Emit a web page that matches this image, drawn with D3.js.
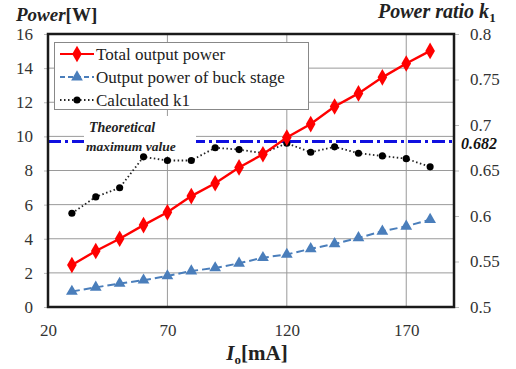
<!DOCTYPE html>
<html>
<head>
<meta charset="utf-8">
<script src="https://cdn.jsdelivr.net/npm/d3@7"></script>
<style>
  body { margin: 0; background: #fff; }
  svg text { font-family: "Liberation Serif", "DejaVu Serif", "Noto Serif", serif !important; }
</style>
</head>
<body>
<svg id="chart" width="516" height="369"></svg>
<script>
// values
const current = [30, 40, 50, 60, 70, 80, 90, 100, 110, 120, 130, 140, 150, 160, 170, 180];
const totalPower = [2.46, 3.28, 4.0, 4.8, 5.55, 6.5, 7.25, 8.18, 8.95, 9.93, 10.72, 11.75, 12.52, 13.46, 14.27, 15.01];
const buckPower = [0.91, 1.15, 1.38, 1.57, 1.82, 2.11, 2.29, 2.56, 2.89, 3.08, 3.41, 3.7, 4.05, 4.44, 4.73, 5.12];
const k1 = [0.603, 0.621, 0.631, 0.665, 0.661, 0.661, 0.675, 0.673, 0.669, 0.68, 0.67, 0.676, 0.669, 0.666, 0.663, 0.654];
const kMax = 0.682;
const xTicks = [20, 70, 120, 170];
const yTicks = [0, 2, 4, 6, 8, 10, 12, 14, 16];
const kTicks = [0.5, 0.55, 0.6, 0.65, 0.7, 0.75, 0.8];
const legendNames = ["Total output power", "Output power of buck stage", "Calculated k1"];

const svg = d3.select("#chart");
const pL = 48, pR = 454, pT = 34, pB = 307;

const x = d3.scaleLinear().domain([20, 190]).range([pL, pR]);
const y = d3.scaleLinear().domain([0, 16]).range([pB, pT]);
const yk = d3.scaleLinear().domain([0.5, 0.8]).range([pB, pT]);

// grid
svg.append("g").selectAll("line").data(yTicks.slice(1, -1)).enter().append("line")
  .attr("x1", pL).attr("x2", pR)
  .attr("y1", d => y(d)).attr("y2", d => y(d))
  .attr("stroke", "#9a9a9a").attr("stroke-width", 1);
svg.append("g").selectAll("line").data(xTicks.slice(1)).enter().append("line")
  .attr("x1", d => x(d)).attr("x2", d => x(d))
  .attr("y1", pT).attr("y2", pB)
  .attr("stroke", "#9a9a9a").attr("stroke-width", 1);

// axes
const axL = svg.append("g").attr("transform", "translate(" + pL + ",0)")
  .call(d3.axisLeft(y).tickValues(yTicks).tickSize(4).tickPadding(11).tickFormat(d3.format("d")));
const axR = svg.append("g").attr("transform", "translate(" + pR + ",0)")
  .call(d3.axisRight(yk).tickValues(kTicks).tickSize(5).tickPadding(11).tickFormat(d => String(+d.toFixed(2))));
const axB = svg.append("g").attr("transform", "translate(0," + pB + ")")
  .call(d3.axisBottom(x).tickValues(xTicks).tickSize(0).tickPadding(17).tickFormat(d3.format("d")));
[axL, axR, axB].forEach(a => {
  a.select(".domain").remove();
  a.selectAll("line").attr("stroke", "#bbb");
  a.selectAll("text").attr("fill", "#333").style("font-size", "17px");
});

// theoretical maximum line
svg.append("line")
  .attr("x1", pL).attr("x2", pR)
  .attr("y1", yk(kMax)).attr("y2", yk(kMax))
  .attr("stroke", "#1010e0").attr("stroke-width", 3)
  .attr("stroke-dasharray", "13,4,3,4");
svg.append("rect").attr("x", 84).attr("y", 116).attr("width", 112).attr("height", 40).attr("fill", "#fff");
svg.append("text").attr("x", 89).attr("y", 132).text("Theoretical")
  .attr("fill", "#222").style("font-size", "14px").style("font-weight", "bold").style("font-style", "italic");
svg.append("text").attr("x", 86).attr("y", 151).text("maximum value")
  .attr("fill", "#222").style("font-size", "13.5px").style("font-weight", "bold").style("font-style", "italic");
svg.append("text").attr("x", 461).attr("y", yk(kMax) + 8).text("0.682")
  .attr("fill", "#111").style("font-size", "16px").style("font-weight", "bold").style("font-style", "italic");

// series
const diamond = d3.symbol().type(d3.symbolDiamond).size(80);
const tri = d3.symbol().type(d3.symbolTriangle).size(60);
const circ = d3.symbol().type(d3.symbolCircle).size(40);

const totalData = current.map((c, i) => [c, totalPower[i]]);
const buckData = current.map((c, i) => [c, buckPower[i]]);
const kData = current.map((c, i) => [c, k1[i]]);

svg.append("path").datum(kData)
  .attr("d", d3.line().x(d => x(d[0])).y(d => yk(d[1])))
  .attr("fill", "none").attr("stroke", "#222").attr("stroke-width", 1.8).attr("stroke-dasharray", "1.5,2.5");
svg.append("g").selectAll("path").data(kData).enter().append("path")
  .attr("d", circ).attr("transform", d => "translate(" + x(d[0]) + "," + yk(d[1]) + ")").attr("fill", "#000");

svg.append("path").datum(buckData)
  .attr("d", d3.line().x(d => x(d[0])).y(d => y(d[1])))
  .attr("fill", "none").attr("stroke", "#4a7ebb").attr("stroke-width", 2).attr("stroke-dasharray", "8,4");
svg.append("g").selectAll("path").data(buckData).enter().append("path")
  .attr("d", tri).attr("transform", d => "translate(" + x(d[0]) + "," + y(d[1]) + ")").attr("fill", "#4a7ebb");

svg.append("path").datum(totalData)
  .attr("d", d3.line().x(d => x(d[0])).y(d => y(d[1])))
  .attr("fill", "none").attr("stroke", "#ff0000").attr("stroke-width", 2.4);
svg.append("g").selectAll("path").data(totalData).enter().append("path")
  .attr("d", diamond).attr("transform", d => "translate(" + x(d[0]) + "," + y(d[1]) + ")").attr("fill", "#ff0000");

// frame
svg.append("rect").attr("x", pL).attr("y", pT).attr("width", pR - pL).attr("height", pB - pT)
  .attr("fill", "none").attr("stroke", "#1a1a1a").attr("stroke-width", 2.5);

// legend
const lg = svg.append("g");
lg.append("rect").attr("x", 54.5).attr("y", 42.5).attr("width", 254).attr("height", 67)
  .attr("fill", "#fff").attr("stroke", "#888").attr("stroke-width", 1);
const styles = [
  { color: "#ff0000", dash: null, sym: diamond },
  { color: "#4a7ebb", dash: "5,3", sym: tri },
  { color: "#222", dash: "1.5,2.5", sym: circ }
];
legendNames.forEach((name, i) => {
  const ly = 54 + i * 23;
  lg.append("line").attr("x1", 60).attr("x2", 94).attr("y1", ly).attr("y2", ly)
    .attr("stroke", styles[i].color).attr("stroke-width", 2).attr("stroke-dasharray", styles[i].dash);
  lg.append("path").attr("d", styles[i].sym).attr("transform", "translate(77," + ly + ")")
    .attr("fill", i === 2 ? "#000" : styles[i].color);
  lg.append("text").attr("x", 96).attr("y", ly + 5.5).text(name)
    .attr("fill", "#222").style("font-size", "17px");
});

// axis titles
const tl = svg.append("text").attr("x", 16).attr("y", 21).attr("fill", "#222").style("font-size", "19px").style("font-weight", "bold");
tl.append("tspan").style("font-style", "italic").text("Power");
tl.append("tspan").text("[W]");

const tr = svg.append("text").attr("x", 378).attr("y", 18).attr("fill", "#222").style("font-size", "20px").style("font-weight", "bold").style("font-style", "italic");
tr.append("tspan").text("Power ratio k");
tr.append("tspan").attr("dy", 4).style("font-size", "13px").style("font-style", "normal").text("1");

const xl = svg.append("text").attr("x", 257).attr("y", 360).attr("text-anchor", "middle").attr("fill", "#222").style("font-size", "21px").style("font-weight", "bold");
xl.append("tspan").style("font-style", "italic").text("I");
xl.append("tspan").attr("dy", 4).style("font-size", "13px").text("o");
xl.append("tspan").attr("dy", -4).text("[mA]");
</script>
</body>
</html>
